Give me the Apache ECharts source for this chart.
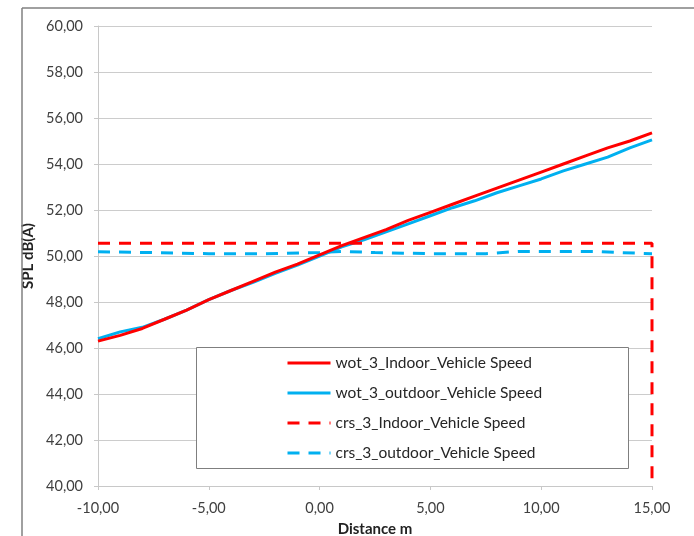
<!DOCTYPE html>
<html>
<head>
<meta charset="utf-8">
<script src="https://cdn.jsdelivr.net/npm/echarts@6/dist/echarts.min.js"></script>
<style>
html,body{margin:0;padding:0;background:#fff;}
#chart{width:694px;height:536px;}
</style>
</head>
<body>
<div id="chart"></div>
<script>
// distance (m) and SPL dB(A)
var distance = [-10,-9,-8,-7,-6,-5,-4,-3,-2,-1,0,1,2,3,4,5,6,7,8,9,10,11,12,13,14,15];
var wotIndoor = [46.30,46.55,46.85,47.25,47.65,48.10,48.50,48.90,49.30,49.65,50.05,50.45,50.80,51.15,51.55,51.90,52.25,52.60,52.95,53.30,53.65,54.00,54.35,54.70,55.00,55.35];
var wotOutdoor = [46.40,46.70,46.90,47.25,47.65,48.10,48.50,48.85,49.25,49.60,50.00,50.40,50.70,51.05,51.40,51.75,52.10,52.40,52.75,53.05,53.35,53.70,54.00,54.30,54.70,55.05];
var crsIndoorX = [-10,15,15];
var crsIndoorY = [50.55,50.55,40];
var crsOutdoorX = [-10,-7.5,-5,-2.5,0,1,2.5,5,7.5,9,10,12.5,13.5,15];
var crsOutdoorY = [50.18,50.15,50.10,50.10,50.15,50.20,50.15,50.10,50.10,50.20,50.20,50.20,50.15,50.10];
var seriesNames = ["wot_3_Indoor_Vehicle Speed","wot_3_outdoor_Vehicle Speed","crs_3_Indoor_Vehicle Speed","crs_3_outdoor_Vehicle Speed"];

function pairs(xs, ys){
    var out = [];
    for (var i = 0; i < xs.length; i++) out.push([xs[i], ys[i]]);
    return out;
}
function fmt(v){
    return v.toFixed(2).replace('.', ',');
}

var font = "Lato, 'Open Sans', sans-serif";
var chart = echarts.init(document.getElementById('chart'));
var option = {
    backgroundColor: '#fff',
    animation: false,
    textStyle: {fontFamily: font},
    grid: {left: 98, right: 42, top: 26, bottom: 50, containLabel: false, outerBoundsMode: 'none'},
    xAxis: {
        type: 'value',
        min: -10, max: 15, interval: 5,
        name: 'Distance m',
        nameLocation: 'middle',
        nameGap: 36,
        nameTextStyle: {color: '#222', fontSize: 15, fontWeight: 'bold', fontFamily: font},
        axisLine: {show: true, onZero: false, lineStyle: {color: '#c8c8c8', width: 1}},
        axisTick: {show: true, length: 4, inside: false, lineStyle: {color: '#c8c8c8'}},
        axisLabel: {color: '#404040', fontSize: 14.5, margin: 15, formatter: fmt, fontFamily: font},
        splitLine: {show: false}
    },
    yAxis: {
        type: 'value',
        min: 40, max: 60, interval: 2,
        name: 'SPL dB(A)',
        nameLocation: 'middle',
        nameRotate: 90,
        nameGap: 51,
        nameTextStyle: {color: '#222', fontSize: 15, fontWeight: 'bold', fontFamily: font},
        axisLine: {show: true, onZero: false, lineStyle: {color: '#c8c8c8', width: 1}},
        axisTick: {show: true, length: 4, lineStyle: {color: '#c8c8c8'}},
        axisLabel: {color: '#404040', fontSize: 14.5, margin: 15, formatter: fmt, fontFamily: font},
        splitLine: {show: true, lineStyle: {color: '#cccccc', width: 1}}
    },
    legend: {
        orient: 'vertical',
        left: 281,
        top: 350,
        itemWidth: 43,
        itemHeight: 10,
        itemGap: 14,
        data: seriesNames,
        itemStyle: {opacity: 0, borderWidth: 0},
        lineStyle: {width: 3},
        textStyle: {color: '#262626', fontSize: 15.5, fontFamily: font},
        z: 10
    },
    graphic: [
        {type: 'rect', z: 5, shape: {x: 196.5, y: 347.5, width: 432, height: 121},
         style: {fill: '#fff', stroke: '#7f7f7f', lineWidth: 1}},
        {type: 'line', z: 5, shape: {x1: 22, y1: 8, x2: 694, y2: 8},
         style: {stroke: '#808080', lineWidth: 1.5}},
        {type: 'line', z: 5, shape: {x1: 22, y1: 8, x2: 22, y2: 536},
         style: {stroke: '#808080', lineWidth: 1.5}}
    ],
    series: [
        {
            name: seriesNames[0], type: 'line', showSymbol: false, symbol: 'none',
            data: pairs(distance, wotIndoor),
            lineStyle: {color: '#ff0000', width: 3},
            itemStyle: {color: '#ff0000'}, z: 3
        },
        {
            name: seriesNames[1], type: 'line', showSymbol: false, symbol: 'none',
            data: pairs(distance, wotOutdoor),
            lineStyle: {color: '#00b0f0', width: 3},
            itemStyle: {color: '#00b0f0'}, z: 2
        },
        {
            name: seriesNames[2], type: 'line', showSymbol: false, symbol: 'none',
            data: pairs(crsIndoorX, crsIndoorY),
            lineStyle: {color: '#ff0000', width: 3, type: [12, 9]},
            itemStyle: {color: '#ff0000'}, z: 2
        },
        {
            name: seriesNames[3], type: 'line', showSymbol: false, symbol: 'none',
            data: pairs(crsOutdoorX, crsOutdoorY),
            lineStyle: {color: '#00b0f0', width: 3, type: [12, 9]},
            itemStyle: {color: '#00b0f0'}, z: 2
        }
    ]
};
chart.setOption(option);
</script>
</body>
</html>
